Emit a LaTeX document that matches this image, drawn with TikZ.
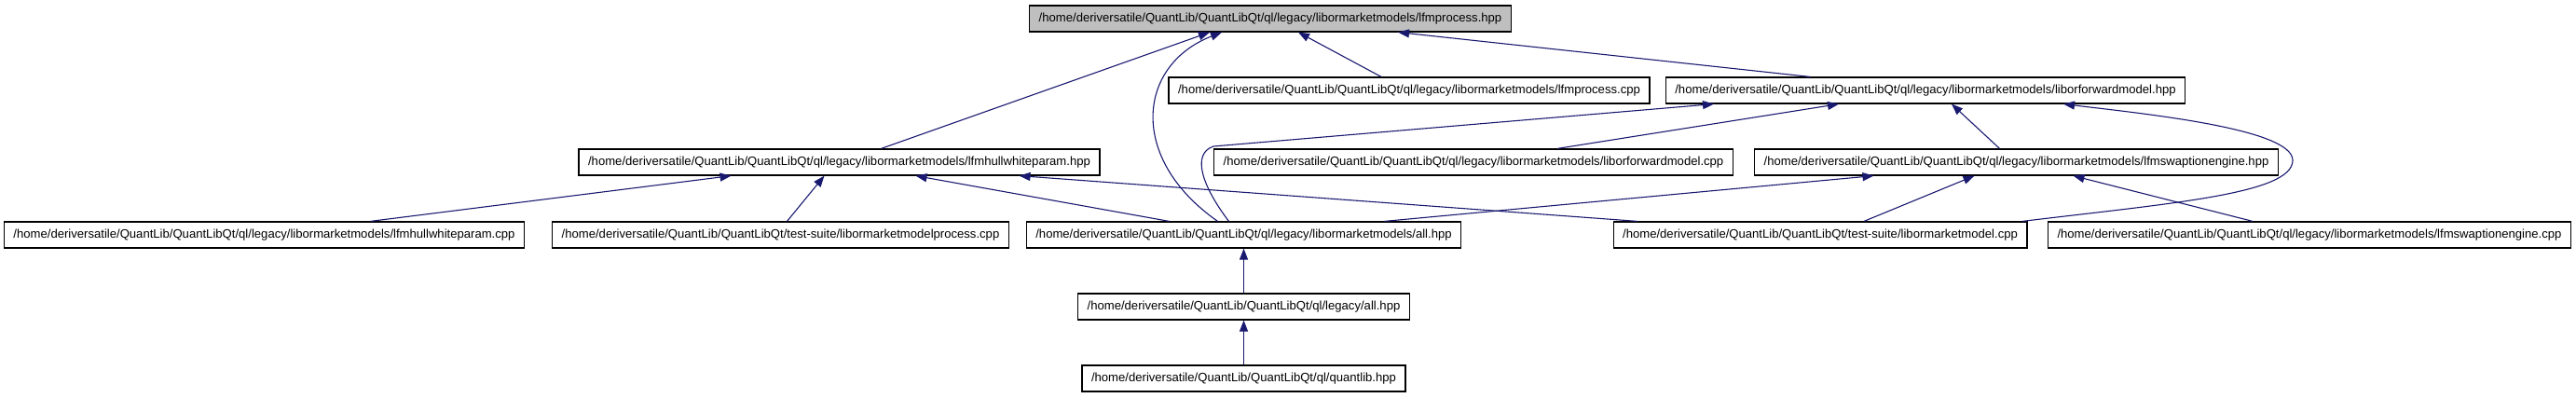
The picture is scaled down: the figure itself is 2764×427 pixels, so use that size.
\documentclass[tikz,border=0pt]{standalone}
\usepackage{fontspec}
\setmainfont{Liberation Sans}
\usetikzlibrary{arrows.meta,calc,positioning}
\definecolor{edgeblue}{HTML}{191970}
\definecolor{boxgray}{HTML}{BFBFBF}
\newcommand{\qlroot}{/home/deriversatile/QuantLib/QuantLibQt}
\newcommand{\lmmdir}{\qlroot/ql/legacy/libormarketmodels}

\begin{document}
\begin{tikzpicture}[x=1pt,y=-1pt,
    file/.style={draw=black, line width=1.2pt, fill=white, minimum height=28pt,
      inner xsep=10pt, inner ysep=0pt, font=\fontsize{13.1}{15}\selectfont},
    incl/.style={draw=edgeblue, line width=1.1pt, -{Triangle[length=12pt,width=9pt]}}]
  \useasboundingbox (0,0) rectangle (2764,427);
  % Top file
  \node[file, fill=boxgray] (lfmhpp) at (1363,20) {\lmmdir/lfmprocess.hpp};
  % Second row
  \node[file] (lfmcpp) at (1512,97) {\lmmdir/lfmprocess.cpp};
  \node[file] (liborhpp) at (2066,97) {\lmmdir/liborforwardmodel.hpp};
  % Third row
  \node[file] (hwhpp) at (900.5,174) {\lmmdir/lfmhullwhiteparam.hpp};
  \node[file] (liborcpp) at (1581,174) {\lmmdir/liborforwardmodel.cpp};
  \node[file] (swphpp) at (2163.5,174) {\lmmdir/lfmswaptionengine.hpp};
  % Fourth row
  \node[file] (hwcpp) at (283.5,252) {\lmmdir/lfmhullwhiteparam.cpp};
  \node[file] (proccpp) at (837.5,252) {\qlroot/test-suite/libormarketmodelprocess.cpp};
  \node[file] (lmmall) at (1334.5,252) {\lmmdir/all.hpp};
  \node[file] (lmmcpp) at (1953,252) {\qlroot/test-suite/libormarketmodel.cpp};
  \node[file] (swpcpp) at (2478,252) {\lmmdir/lfmswaptionengine.cpp};
  % Bottom files
  \node[file] (legall) at (1334.5,329) {\qlroot/ql/legacy/all.hpp};
  \node[file] (qlhpp) at (1334.5,406) {\qlroot/ql/quantlib.hpp};
  % Includes of lfmprocess.hpp
  \draw[incl] ([xshift=-30pt]lfmcpp.north) -- ([xshift=30pt]lfmhpp.south);
  \draw[incl] ([xshift=-124pt]liborhpp.north) -- ([xshift=137pt]lfmhpp.south);
  \draw[incl] ([xshift=45pt]hwhpp.north) -- ([xshift=-65pt]lfmhpp.south);
  \draw[incl] ([xshift=-28pt]lmmall.north) .. controls (1210,170) and (1220,70) .. ([xshift=-52pt]lfmhpp.south);
  % Includes of liborforwardmodel.hpp
  \draw[incl] ([xshift=-16pt]lmmall.north) .. controls (1290,200) and (1278,165) .. (1302,157) -- ([xshift=-227pt]liborhpp.south);
  \draw[incl] ([xshift=90pt]liborcpp.north) -- ([xshift=-93pt]liborhpp.south);
  \draw[incl] ([xshift=-18pt]swphpp.north) -- ([xshift=28pt]liborhpp.south);
  \draw[incl] ([xshift=217pt]lmmcpp.north) .. controls (2330,218) and (2460,208) .. (2460,172)
    .. controls (2460,138) and (2300,122) .. ([xshift=148pt]liborhpp.south);
  % Includes of lfmhullwhiteparam.hpp
  \draw[incl] ([xshift=114pt]hwcpp.north) -- ([xshift=-116pt]hwhpp.south);
  \draw[incl] ([xshift=7pt]proccpp.north) -- ([xshift=-16pt]hwhpp.south);
  \draw[incl] ([xshift=-80pt]lmmall.north) -- ([xshift=82pt]hwhpp.south);
  \draw[incl] ([xshift=-196pt]lmmcpp.north) -- ([xshift=193pt]hwhpp.south);
  % Includes of lfmswaptionengine.hpp
  \draw[incl] ([xshift=151pt]lmmall.north) -- ([xshift=-153pt]swphpp.south);
  \draw[incl] ([xshift=47pt]lmmcpp.north) -- ([xshift=-45pt]swphpp.south);
  \draw[incl] ([xshift=-61pt]swpcpp.north) -- ([xshift=61pt]swphpp.south);
  % Includes of the all headers
  \draw[incl] (legall) -- (lmmall);
  \draw[incl] (qlhpp) -- (legall);
\end{tikzpicture}
\end{document}
